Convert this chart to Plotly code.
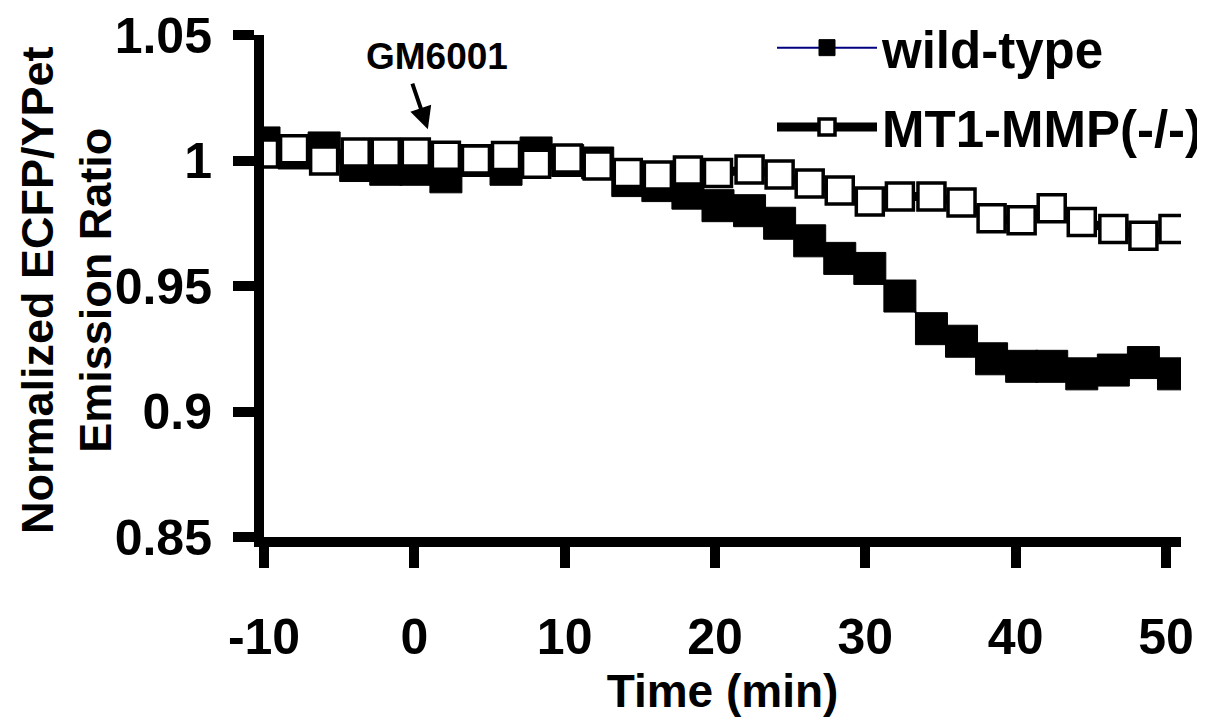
import plotly.graph_objects as go

# ---- data ----
time_min = [-10.0, -8.0, -6.0, -3.9, -1.9, 0.1, 2.1, 4.1, 6.1, 8.1, 10.2,
            12.2, 14.2, 16.2, 18.2, 20.2, 22.3, 24.3, 26.3, 28.3, 30.3,
            32.3, 34.4, 36.4, 38.4, 40.4, 42.4, 44.4, 46.5, 48.5, 50.5]

wild_type = [1.007, 1.003, 1.005, 0.998, 0.9965, 0.9965, 0.9935, 1.000, 0.9965, 1.003, 1.000,
             0.999, 0.992, 0.990, 0.987, 0.982, 0.980, 0.975, 0.968, 0.961, 0.957,
             0.946, 0.933, 0.928, 0.921, 0.918, 0.918, 0.915, 0.9165, 0.9195, 0.915]

mt1_mmp_ko = [1.0028, 1.0045, 1.000, 1.0032, 1.0032, 1.0032, 1.0019, 1.0004, 1.0018, 0.9987, 1.0008,
              0.998, 0.995, 0.994, 0.996, 0.995, 0.9964, 0.9944, 0.9908, 0.988, 0.9837,
              0.9857, 0.9857, 0.9833, 0.977, 0.9762, 0.981, 0.9755, 0.9727, 0.970, 0.9727]

x_ticks = [-10, 0, 10, 20, 30, 40, 50]
x_tick_text = ["-10", "0", "10", "20", "30", "40", "50"]
y_ticks = [0.85, 0.9, 0.95, 1.0, 1.05]
y_tick_text = ["0.85", "0.9", "0.95", "1", "1.05"]

series_names = ["wild-type", "MT1-MMP(-/-)"]
y_title = "Normalized ECFP/YPet<br>Emission Ratio"
x_title = "Time (min)"

FONT = "Liberation Sans, Arial, sans-serif"

# the page body adds an 8 px offset, so the figure is 8 px smaller than the window
W, H = 1197, 711

fig = go.Figure()
fig.add_trace(go.Scatter(
    x=time_min, y=wild_type, name=series_names[0], mode="lines+markers",
    line=dict(color="#000080", width=2),
    marker=dict(symbol="square", size=32, color="black", line=dict(color="black", width=1)),
    legendgroup="a",
))
fig.add_trace(go.Scatter(
    x=time_min, y=mt1_mmp_ko, name=series_names[1], mode="lines+markers",
    line=dict(color="black", width=9),
    marker=dict(symbol="square", size=27, color="white", line=dict(color="black", width=3.5)),
    legendgroup="b",
))

fig.add_annotation(x=1.5, y=1.0413, xref="x", yref="y", text="GM6001", showarrow=False,
                   font=dict(family=FONT, size=37, color="black", weight="bold"))
fig.add_annotation(x=0.9, y=1.0125, xref="x", yref="y", text="", showarrow=True,
                   ax=-16, ay=-47, arrowhead=2, arrowsize=1.1, arrowwidth=4, arrowcolor="black")

# y-axis title placed as rotated text
fig.add_annotation(x=(59 - 256) / 917, y=0.492, xref="paper", yref="paper", text=y_title,
                   showarrow=False, textangle=-90, xanchor="center", yanchor="middle",
                   font=dict(family=FONT, size=45, color="black", weight="bold"))

fig.update_layout(
    width=W, height=H,
    margin=dict(l=256, r=24, t=27, b=182, autoexpand=False),
    paper_bgcolor="white", plot_bgcolor="white",
    font=dict(family=FONT, color="black"),
    showlegend=True,
    legend=dict(x=764 / W, y=1.0, xref="container", yref="container",
                xanchor="left", yanchor="top",
                font=dict(family=FONT, size=51, color="black", weight="bold"),
                bgcolor="rgba(0,0,0,0)", traceorder="grouped", tracegroupgap=10,
                itemwidth=100),
    xaxis=dict(range=[-10, 51], tickvals=x_ticks, ticktext=x_tick_text, ticks="outside",
               ticklen=21, tickwidth=10, automargin=False, ticklabeloverflow="allow",
               tickcolor="black", showline=True, linewidth=10, linecolor="black",
               showgrid=False, zeroline=False, ticklabelstandoff=26,
               tickfont=dict(family=FONT, size=50, color="black", weight="bold"),
               title=dict(text=x_title, standoff=0,
                          font=dict(family=FONT, size=46, color="black", weight="bold"))),
    yaxis=dict(range=[0.85, 1.05], tickvals=y_ticks, ticktext=y_tick_text, ticks="outside",
               ticklen=21, tickwidth=10, tickcolor="black", showline=True, linewidth=10,
               linecolor="black", showgrid=False, zeroline=False, ticklabelstandoff=11,
               automargin=False, ticklabeloverflow="allow",
               tickfont=dict(family=FONT, size=50, color="black", weight="bold")),
)

fig.write_html("out.html")
